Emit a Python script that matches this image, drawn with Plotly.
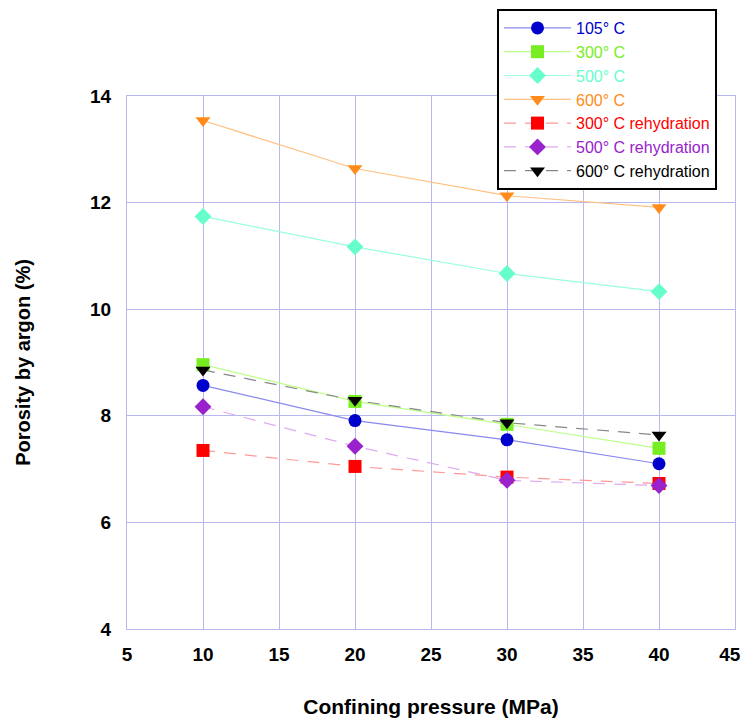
import plotly.graph_objects as go

pressure = [10, 20, 30, 40]
por_105 = [8.57, 7.91, 7.55, 7.10]
por_300 = [8.96, 8.27, 7.84, 7.39]
por_500 = [11.74, 11.17, 10.67, 10.33]
por_600 = [13.54, 12.64, 12.13, 11.91]
por_300r = [7.35, 7.05, 6.85, 6.73]
por_500r = [8.17, 7.43, 6.79, 6.69]
por_600r = [8.86, 8.29, 7.87, 7.64]

x_ticks = [5, 10, 15, 20, 25, 30, 35, 40, 45]
x_ticktext = ["5", "10", "15", "20", "25", "30", "35", "40", "45\u00a0\u00a0"]
y_ticks = [4, 6, 8, 10, 12, 14]

series = [
    ("105° C", por_105, "#0000CC", "#8888EE", "circle", "solid"),
    ("300° C", por_300, "#77EE22", "#BBFF88", "square", "solid"),
    ("500° C", por_500, "#66FFCC", "#99FFDD", "diamond", "solid"),
    ("600° C", por_600, "#FF8C1A", "#FFC080", "triangle-down", "solid"),
    ("300° C rehydration", por_300r, "#FF0000", "#FF9999", "square", "dash"),
    ("500° C rehydration", por_500r, "#9922CC", "#DDAAEE", "diamond", "dash"),
    ("600° C rehydration", por_600r, "#000000", "#888888", "triangle-down", "dash"),
]

fig = go.Figure()
for name, ys, mcol, lcol, sym, dash in series:
    fig.add_trace(go.Scatter(
        x=pressure, y=ys, mode="lines+markers",
        name=f"<span style='color:{mcol}'>{name}</span>",
        line=dict(color=lcol, width=1.2, dash="12px,9px" if dash == "dash" else "solid"),
        marker=dict(symbol=sym, size=13, color=mcol, line=dict(width=0)),
    ))

grid = "#B8B8F0"
# page body has an 8px margin, so the figure is drawn 8px in from the corner
fig.update_layout(
    width=734, height=710,
    margin=dict(l=119, r=7, t=88, b=89, autoexpand=False),
    paper_bgcolor="white", plot_bgcolor="white",
    font=dict(family="Liberation Sans, Arial", color="black"),
    xaxis=dict(
        range=[5, 45], tickvals=x_ticks, ticktext=x_ticktext,
        showgrid=True, gridcolor=grid, gridwidth=1,
        showline=True, linecolor=grid, linewidth=1, mirror=True,
        zeroline=False, ticks="", ticklabelstandoff=8, ticklabeloverflow="allow",
        tickfont=dict(size=19, weight="bold", color="black"),
        title=dict(text="Confining pressure (MPa)", font=dict(size=21, weight="bold"), standoff=36),
    ),
    yaxis=dict(
        range=[4, 14], tickvals=y_ticks,
        showgrid=True, gridcolor=grid, gridwidth=1,
        showline=True, linecolor=grid, linewidth=1, mirror=True,
        zeroline=False, ticks="", ticklabelstandoff=11,
        tickfont=dict(size=19, weight="bold", color="black"),
        title=dict(text="Porosity by argon (%)", font=dict(size=20, weight="bold"), standoff=54),
    ),
    legend=dict(
        x=(489 - 119) / 608, y=(621 - 1) / 533, xanchor="left", yanchor="top",
        bgcolor="white", bordercolor="black", borderwidth=2,
        font=dict(size=16, family="Liberation Sans, Arial"),
        itemwidth=67, tracegroupgap=0,
    ),
    showlegend=True,
)

fig.write_html("out.html")
